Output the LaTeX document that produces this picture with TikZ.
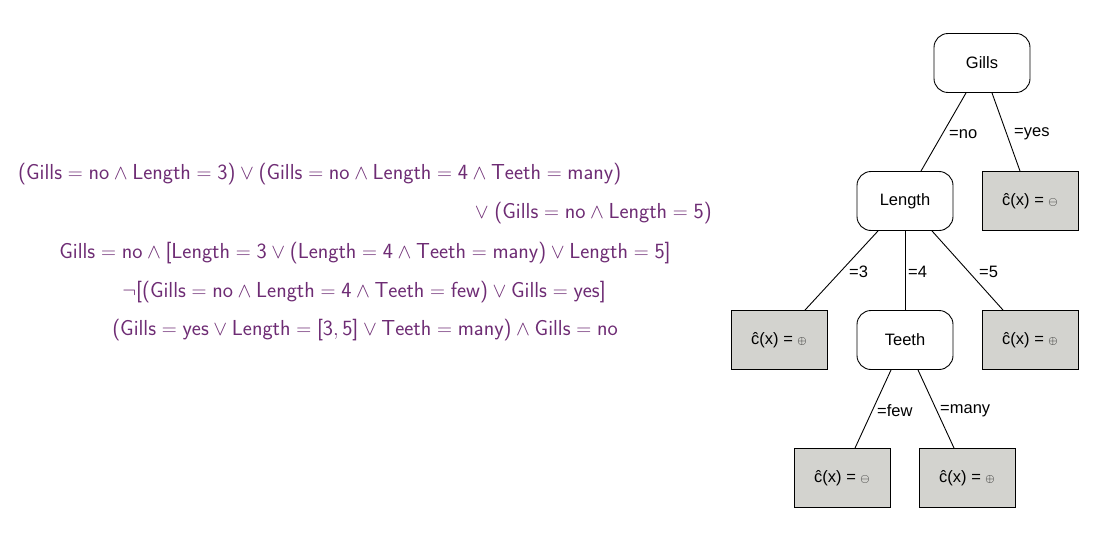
\documentclass[tikz,border=0pt]{standalone}
\usepackage{amssymb}
\usepackage{fontspec}
\newfontfamily\treefont{Liberation Sans}
\definecolor{formcol}{HTML}{6E2C74}
\definecolor{leafgray}{HTML}{D3D3CF}
\newcommand{\Lp}{\mathord{\mbox{(}}}
\newcommand{\Rp}{\mathord{\mbox{)}}}
\newcommand{\Lb}{\mathord{\mbox{[}}}
\newcommand{\Rb}{\mathord{\mbox{]}}}
\newcommand{\Sm}[1]{\mathsf{#1}}
\newcommand{\Pl}{{\fontsize{13}{14}\selectfont$\oplus$}}
\newcommand{\Mi}{{\fontsize{13}{14}\selectfont$\ominus$}}
\begin{document}
\begin{tikzpicture}[x=1pt,y=-1pt,
  inner/.style={draw,rounded corners=14pt,minimum width=96pt,minimum height=59pt,font=\treefont\fontsize{16.5}{19}\selectfont,line width=0.9pt},
  leaf/.style={draw,fill=leafgray,minimum width=96pt,minimum height=59pt,font=\treefont\fontsize{16.5}{19}\selectfont,line width=0.9pt},
  elab/.style={font=\treefont\fontsize{16.5}{19}\selectfont,inner sep=0pt,anchor=west},
  edge/.style={line width=0.9pt},
  formula/.style={text=formcol,font=\sffamily\fontsize{21.7}{25}\selectfont,inner sep=0pt}]
\useasboundingbox (0,0) rectangle (1107,535);
% formulas
\node[formula,anchor=west] (f1) at (18,174) {$\Lp\Sm{Gills}=\Sm{no}\wedge \Sm{Length}=\Sm{3}\Rp\vee\Lp\Sm{Gills}=\Sm{no}\wedge\Sm{Length}=\Sm{4}\wedge\Sm{Teeth}=\Sm{many}\Rp$};
\node[formula,anchor=east] (f2) at (712,213) {$\vee\;\Lp\Sm{Gills}=\Sm{no}\wedge\Sm{Length}=\Sm{5}\Rp$};
\node[formula] (f3) at (365,253) {$\Sm{Gills}=\Sm{no}\wedge\Lb\Sm{Length}=\Sm{3}\vee\Lp\Sm{Length}=\Sm{4}\wedge\Sm{Teeth}=\Sm{many}\Rp\vee\Sm{Length}=\Sm{5}\Rb$};
\node[formula] (f4) at (364,292) {$\neg\Lb\Lp\Sm{Gills}=\Sm{no}\wedge\Sm{Length}=\Sm{4}\wedge\Sm{Teeth}=\Sm{few}\Rp\vee\Sm{Gills}=\Sm{yes}\Rb$};
\node[formula] (f5) at (365,330) {$\Lp\Sm{Gills}=\Sm{yes}\vee\Sm{Length}=\Lb\Sm{3},\Sm{5}\Rb\vee\Sm{Teeth}=\Sm{many}\Rp\wedge\Sm{Gills}=\Sm{no}$};
% tree
\node[inner] (g) at (982,63) {Gills};
\node[inner] (l) at (905,201) {Length};
\node[leaf] (ly) at (1030,201) {ĉ(x) = \Mi};
\node[leaf] (l3) at (779,340) {ĉ(x) = \Pl};
\node[inner] (t) at (905,340) {Teeth};
\node[leaf] (l5) at (1030,340) {ĉ(x) = \Pl};
\node[leaf] (lf) at (842,478) {ĉ(x) = \Mi};
\node[leaf] (lm) at (967,478) {ĉ(x) = \Pl};
\draw[edge] ([xshift=-16pt]g.south) -- ([xshift=16pt]l.north);
\draw[edge] ([xshift=10pt]g.south) -- ([xshift=-10pt]ly.north);
\draw[edge] ([xshift=-27pt]l.south) -- ([xshift=26pt]l3.north);
\draw[edge] (l.south) -- (t.north);
\draw[edge] ([xshift=27pt]l.south) -- ([xshift=-27pt]l5.north);
\draw[edge] ([xshift=-14pt]t.south) -- ([xshift=13pt]lf.north);
\draw[edge] ([xshift=13pt]t.south) -- ([xshift=-13pt]lm.north);
\node[elab] (en) at (949,134) {=no};
\node[elab] (ey) at (1014,134) {=yes};
\node[elab] (e3) at (849,272) {=3};
\node[elab] (e4) at (908,272) {=4};
\node[elab] (e5) at (979,272) {=5};
\node[elab] (ef) at (877,411) {=few};
\node[elab] (em) at (940,411) {=many};
\end{tikzpicture}
\end{document}
